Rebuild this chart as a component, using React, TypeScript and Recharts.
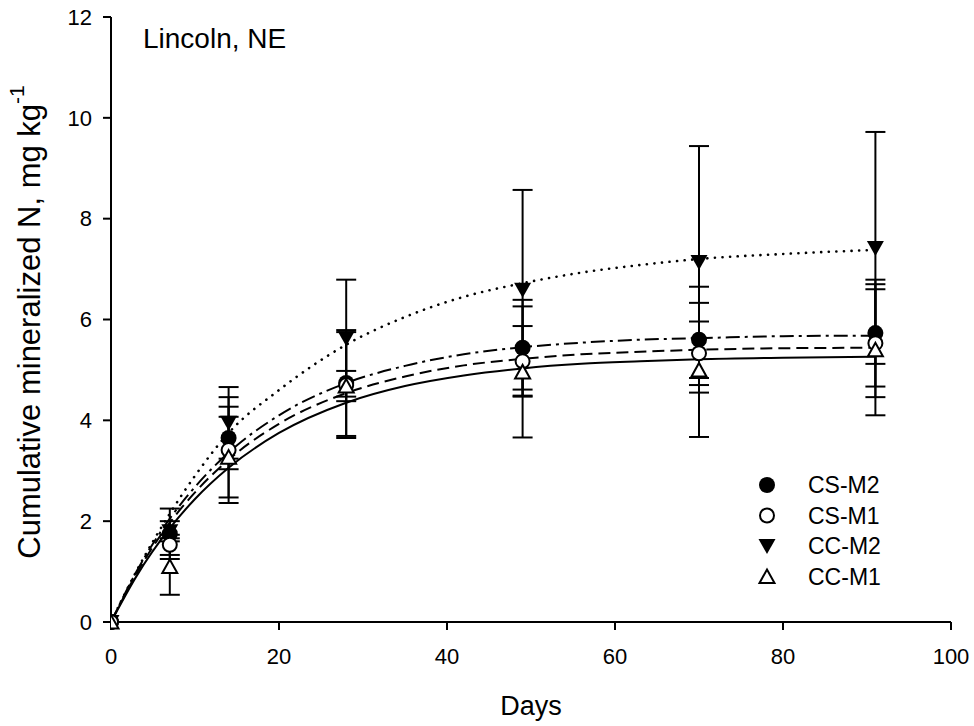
import React from "react";
import {
  ComposedChart,
  Line,
  Scatter,
  ErrorBar,
  XAxis,
  YAxis,
  Label,
  Customized,
} from "recharts";

document.body.style.margin = "0";

// sampling days and observed means / error half-widths
const days = [0, 7, 14, 28, 49, 70, 91];
const csM2 = [0, 1.75, 3.65, 4.74, 5.44, 5.6, 5.73];
const csM2Err = [0, 0.5, 0.62, 1.05, 0.95, 1.05, 1.06];
const csM1 = [0, 1.53, 3.41, 4.7, 5.17, 5.33, 5.53];
const csM1Err = [0, 0.2, 1.05, 1.05, 0.7, 0.63, 1.07];
const ccM2 = [0, 1.8, 3.95, 5.63, 6.59, 7.14, 7.42];
const ccM2Err = [0, 0.2, 0.71, 1.16, 1.98, 2.3, 2.3];
const ccM1 = [0, 1.1, 3.27, 4.68, 4.96, 5.0, 5.4];
const ccM1Err = [0, 0.56, 0.8, 0.3, 1.3, 1.33, 1.3];

// fitted curves
const fitDays = [0, 3, 7, 10, 14, 20, 28, 35, 42, 49, 56, 63, 70, 80, 91];
const fitCsM2 = [0, 0.99, 2.05, 2.68, 3.36, 4.1, 4.74, 5.08, 5.31, 5.45, 5.54, 5.6, 5.63, 5.67, 5.68];
const fitCsM1 = [0, 0.95, 1.97, 2.57, 3.22, 3.93, 4.54, 4.87, 5.09, 5.22, 5.31, 5.36, 5.4, 5.43, 5.44];
const fitCcM2 = [0, 1.0, 2.15, 2.9, 3.75, 4.6, 5.5, 6.05, 6.45, 6.72, 6.93, 7.08, 7.2, 7.3, 7.38];
const fitCcM1 = [0, 0.9, 1.86, 2.44, 3.06, 3.75, 4.35, 4.68, 4.89, 5.03, 5.12, 5.17, 5.21, 5.24, 5.26];

const xTicks = [0, 20, 40, 60, 80, 100];
const yTicks = [0, 2, 4, 6, 8, 10, 12];
const legendNames = ["CS-M2", "CS-M1", "CC-M2", "CC-M1"];

const FONT = "'Liberation Sans', Arial, Helvetica, sans-serif";

const pts = (ys: number[], errs: number[]) =>
  days.map((d, i) => ({ x: d, y: ys[i], err: errs[i] }));
const curve = (ys: number[]) => fitDays.map((d, i) => ({ x: d, y: ys[i] }));

const FilledCircle = ({ cx, cy }: any) => <circle cx={cx} cy={cy} r={8} fill="#000" />;
const OpenCircle = ({ cx, cy }: any) => (
  <circle cx={cx} cy={cy} r={7} fill="#fff" stroke="#000" strokeWidth={2} />
);
const DownTri = ({ cx, cy }: any) => (
  <path d={`M${cx - 8.5},${cy - 7} L${cx + 8.5},${cy - 7} L${cx},${cy + 8} Z`} fill="#000" />
);
const UpTri = ({ cx, cy }: any) => (
  <path
    d={`M${cx - 7.5},${cy + 6.5} L${cx + 7.5},${cy + 6.5} L${cx},${cy - 7} Z`}
    fill="#fff"
    stroke="#000"
    strokeWidth={2}
  />
);
const shapes = [FilledCircle, OpenCircle, DownTri, UpTri];

const YTitle = () => {
  const x = 29;
  const y = 322;
  return (
    <text
      x={x}
      y={y}
      transform={`rotate(-90 ${x} ${y})`}
      textAnchor="middle"
      dominantBaseline="central"
      fontFamily={FONT}
      fontSize={31}
      fill="#000"
    >
      Cumulative mineralized N, mg kg
      <tspan dy={-13} fontSize={21}>-1</tspan>
    </text>
  );
};

const XTitle = ({ viewBox }: any) => (
  <text
    x={viewBox.x + viewBox.width / 2}
    y={viewBox.y + 93}
    textAnchor="middle"
    fontFamily={FONT}
    fontSize={27}
    fill="#000"
  >
    Days
  </text>
);

const Extras = () => (
  <g fontFamily={FONT} fill="#000">
    <text x={143} y={48} fontSize={28}>
      Lincoln, NE
    </text>
    {legendNames.map((name, i) => {
      const cy = 485 + i * 30.5;
      const Shape = shapes[i];
      return (
        <g key={name}>
          <Shape cx={767} cy={cy} />
          <text x={808} y={cy + 8} fontSize={23}>
            {name}
          </text>
        </g>
      );
    })}
  </g>
);

export default function App() {
  const tick = { fontSize: 22, fill: "#000", fontFamily: FONT };
  const axisLine = { stroke: "#000", strokeWidth: 2 };
  return (
    <div style={{ width: 974, height: 726, background: "#fff" }}>
      <ComposedChart
        width={974}
        height={726}
        margin={{ top: 17, right: 23, bottom: 44, left: 51 }}
      >
        <XAxis
          type="number"
          dataKey="x"
          domain={[0, 100]}
          ticks={xTicks}
          allowDataOverflow
          height={60}
          tick={tick}
          tickSize={8}
          tickMargin={18}
          axisLine={axisLine}
          tickLine={{ stroke: "#000", strokeWidth: 2 }}
        >
          <Label content={<XTitle />} />
        </XAxis>
        <YAxis
          type="number"
          domain={[0, 12]}
          ticks={yTicks}
          width={60}
          tick={tick}
          tickSize={8}
          tickMargin={11}
          axisLine={axisLine}
          tickLine={{ stroke: "#000", strokeWidth: 2 }}
        >
          <Label content={<YTitle />} />
        </YAxis>

        <Line data={curve(fitCcM1)} dataKey="y" type="monotone" stroke="#000" strokeWidth={2} dot={false} isAnimationActive={false} />
        <Line data={curve(fitCsM1)} dataKey="y" type="monotone" stroke="#000" strokeWidth={2} strokeDasharray="12 6" dot={false} isAnimationActive={false} />
        <Line data={curve(fitCsM2)} dataKey="y" type="monotone" stroke="#000" strokeWidth={2} strokeDasharray="14 5 3 5" dot={false} isAnimationActive={false} />
        <Line data={curve(fitCcM2)} dataKey="y" type="monotone" stroke="#000" strokeWidth={2.6} strokeDasharray="0.1 7.5" strokeLinecap="round" dot={false} isAnimationActive={false} />

        <Scatter data={pts(ccM2, ccM2Err)} dataKey="y" shape={<DownTri />} isAnimationActive={false}>
          <ErrorBar dataKey="err" direction="y" width={10} stroke="#000" strokeWidth={2} />
        </Scatter>
        <Scatter data={pts(csM2, csM2Err)} dataKey="y" shape={<FilledCircle />} isAnimationActive={false}>
          <ErrorBar dataKey="err" direction="y" width={10} stroke="#000" strokeWidth={2} />
        </Scatter>
        <Scatter data={pts(csM1, csM1Err)} dataKey="y" shape={<OpenCircle />} isAnimationActive={false}>
          <ErrorBar dataKey="err" direction="y" width={10} stroke="#000" strokeWidth={2} />
        </Scatter>
        <Scatter data={pts(ccM1, ccM1Err)} dataKey="y" shape={<UpTri />} isAnimationActive={false}>
          <ErrorBar dataKey="err" direction="y" width={10} stroke="#000" strokeWidth={2} />
        </Scatter>

        <Customized component={<Extras />} />
      </ComposedChart>
    </div>
  );
}
